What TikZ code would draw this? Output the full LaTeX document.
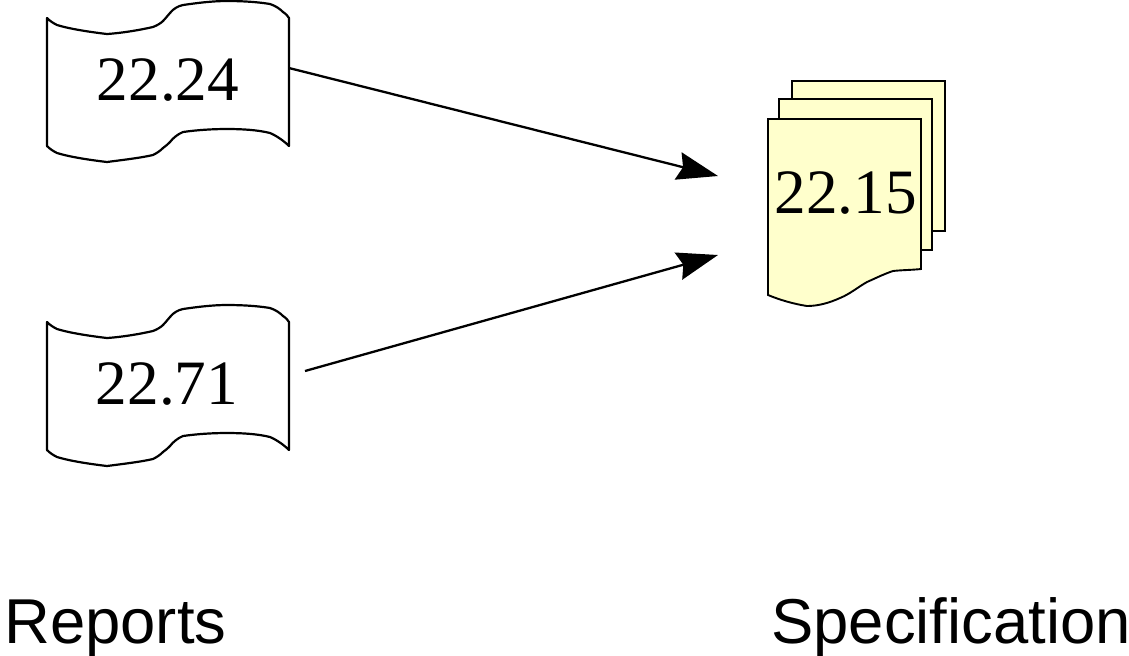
\documentclass[tikz,border=0pt]{standalone}
\usepackage{fontspec}
\setmainfont{Liberation Serif}
\newfontfamily\labelfont{Liberation Sans}
\usetikzlibrary{arrows.meta}
\definecolor{sheetyellow}{HTML}{FFFFCC}
\tikzset{
  x=0.5pt,y=-0.5pt,
  outline/.style={draw=black,line width=1.1pt,line join=round},
  sheet/.style={draw=black,fill=sheetyellow,line width=0.95pt,line join=miter},
  numtext/.style={inner sep=0pt,anchor=base,text=black,font=\fontsize{31.6}{36}\selectfont},
  captiontext/.style={inner sep=0pt,anchor=base west,text=black,font=\labelfont\fontsize{31.7}{36}\selectfont},
  flow/.style={draw=black,line width=1.15pt,-{Stealth[length=20.5pt,width=14pt,inset=2.5pt]}},
  wavepaper/.pic={
    \draw[outline] (47,18) .. controls (50,21) and (53,23) .. (57,25)
      .. controls (70,29) and (90,32) .. (107,34)
      .. controls (122,33) and (140,30) .. (153,27)
      .. controls (158,25) and (161,23) .. (163,21)
      .. controls (166,18) and (168,15) .. (170,13)
      .. controls (173,9) and (178,6) .. (183,5)
      .. controls (197,3) and (212,1) .. (227,1)
      .. controls (243,1) and (258,2) .. (270,4)
      .. controls (276,6) and (280,9) .. (283,12)
      .. controls (286,14) and (288,16) .. (289,18)
      -- (289,146)
      .. controls (284,141) and (277,136) .. (270,133)
      .. controls (258,130) and (243,129) .. (227,129)
      .. controls (212,129) and (197,130) .. (183,132)
      .. controls (178,134) and (173,138) .. (170,142)
      .. controls (168,144) and (166,146) .. (163,148)
      .. controls (160,151) and (157,153) .. (153,155)
      .. controls (140,158) and (122,160) .. (107,162)
      .. controls (90,160) and (70,157) .. (57,153)
      .. controls (53,151) and (50,149) .. (47,146)
      -- cycle;
  }
}
\begin{document}
\begin{tikzpicture}
\useasboundingbox (0,0) rectangle (1129,655);
% report sheets
\pic at (0,0) {wavepaper};
\pic at (0,304) {wavepaper};
\node[numtext] (rep1) at (168,100) {22.24};
\node[numtext] (rep2) at (167,404) {22.71};
% specification stack
\draw[sheet] (792,81) rectangle (945,231);
\draw[sheet] (779,99) rectangle (932,250);
\draw[sheet] (768,119) -- (921,119) -- (921,269)
  .. controls (912,270) and (902,270) .. (893,271)
  .. controls (884,274) and (876,278) .. (867,282)
  .. controls (858,287) and (850,294) .. (840,298)
  .. controls (829,303) and (818,306) .. (807,306)
  .. controls (794,304) and (780,300) .. (768,295)
  -- cycle;
\node[numtext] (spec) at (845.5,213) {22.15};
% connector ends
\coordinate (rep1out) at (289,68);
\coordinate (rep2out) at (305,371);
\coordinate (specin1) at (718,176);
\coordinate (specin2) at (718,255);
\draw[flow] (rep1out) -- (specin1);
\draw[flow] (rep2out) -- (specin2);
% captions
\node[captiontext] (reports) at (4,643) {Reports};
\node[captiontext] (specification) at (771,643) {Specification};
\end{tikzpicture}
\end{document}
